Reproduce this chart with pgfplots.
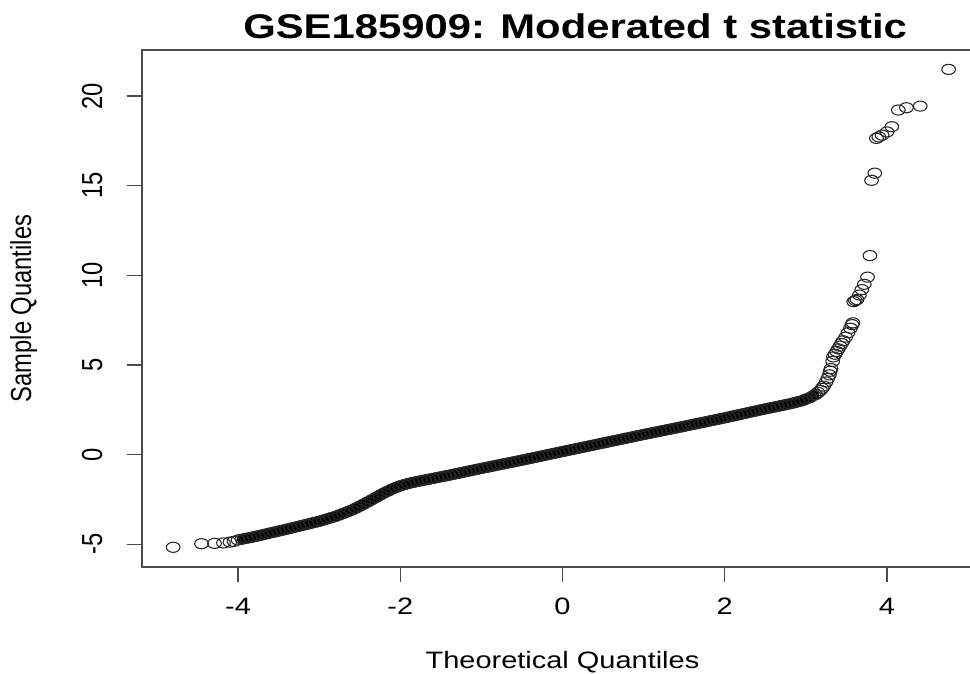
\documentclass[border=0pt]{standalone}
\usepackage{pgfplots}
\pgfplotsset{compat=1.18}
\usepackage{pgfplotstable}
\usepackage{graphicx}
\usepackage{fontspec}
\setmainfont{Liberation Sans}

\pgfplotstableread{
x y
-4.80 -5.17
-4.45 -4.97
-4.29 -4.95
-4.18 -4.93
-4.10 -4.88
-4.05 -4.84
}\lefttail

\pgfplotstableread{
x y
-4.00 -4.762
-3.95 -4.717
-3.90 -4.671
-3.85 -4.626
-3.80 -4.580
-3.75 -4.528
-3.70 -4.475
-3.65 -4.423
-3.60 -4.370
-3.55 -4.318
-3.50 -4.265
-3.45 -4.213
-3.40 -4.160
-3.35 -4.105
-3.30 -4.050
-3.25 -3.995
-3.20 -3.940
-3.15 -3.885
-3.10 -3.830
-3.05 -3.775
-3.00 -3.720
-2.95 -3.653
-2.90 -3.585
-2.85 -3.518
-2.80 -3.450
-2.75 -3.363
-2.70 -3.275
-2.65 -3.188
-2.60 -3.100
-2.55 -2.990
-2.50 -2.880
-2.45 -2.760
-2.40 -2.640
-2.35 -2.515
-2.30 -2.390
-2.25 -2.265
-2.20 -2.140
-2.15 -2.030
-2.10 -1.920
-2.05 -1.830
-2.00 -1.740
-1.95 -1.675
-1.90 -1.610
-1.85 -1.560
-1.80 -1.510
-1.75 -1.465
-1.70 -1.420
-1.65 -1.375
-1.60 -1.330
-1.55 -1.285
-1.50 -1.240
-1.45 -1.195
-1.40 -1.150
-1.35 -1.103
-1.30 -1.055
-1.25 -1.008
-1.20 -0.960
-1.15 -0.913
-1.10 -0.865
-1.05 -0.818
-1.00 -0.770
-0.95 -0.724
-0.90 -0.678
-0.85 -0.632
-0.80 -0.586
-0.75 -0.540
-0.70 -0.494
-0.65 -0.448
-0.60 -0.402
-0.55 -0.356
-0.50 -0.310
-0.45 -0.262
-0.40 -0.214
-0.35 -0.166
-0.30 -0.118
-0.25 -0.070
-0.20 -0.022
-0.15 0.026
-0.10 0.074
-0.05 0.122
0.00 0.170
0.05 0.218
0.10 0.265
0.15 0.313
0.20 0.360
0.25 0.408
0.30 0.455
0.35 0.503
0.40 0.550
0.45 0.598
0.50 0.645
0.55 0.693
0.60 0.740
0.65 0.788
0.70 0.835
0.75 0.883
0.80 0.930
0.85 0.978
0.90 1.025
0.95 1.073
1.00 1.120
1.05 1.166
1.10 1.212
1.15 1.258
1.20 1.304
1.25 1.350
1.30 1.396
1.35 1.442
1.40 1.488
1.45 1.534
1.50 1.580
1.55 1.627
1.60 1.674
1.65 1.721
1.70 1.768
1.75 1.815
1.80 1.862
1.85 1.909
1.90 1.956
1.95 2.003
2.00 2.050
2.05 2.100
2.10 2.150
2.15 2.200
2.20 2.250
2.25 2.300
2.30 2.350
2.35 2.400
2.40 2.450
2.45 2.500
2.50 2.550
2.55 2.597
2.60 2.643
2.65 2.690
2.70 2.737
2.75 2.783
2.80 2.830
2.85 2.887
2.90 2.943
2.95 3.000
3.00 3.090
3.05 3.180
3.10 3.310
3.12 3.360
3.15 3.470
3.18 3.580
3.20 3.700
3.22 3.820
}\band

\pgfplotstableread{
x y
3.25 4.05
3.27 4.25
3.29 4.45
3.30 4.65
3.31 4.80
3.33 5.20
3.34 5.45
3.36 5.60
3.38 5.75
3.40 5.90
3.42 6.05
3.44 6.20
3.46 6.35
3.49 6.55
3.52 6.80
3.55 7.05
3.57 7.25
3.58 7.35
3.59 8.53
3.61 8.60
3.63 8.65
3.66 8.90
3.69 9.20
3.72 9.50
3.76 9.90
3.79 11.10
3.81 15.30
3.85 15.70
3.87 17.64
3.90 17.72
3.94 17.82
4.00 18.00
4.06 18.29
4.14 19.22
4.24 19.35
4.41 19.44
4.76 21.49
}\righttail

\begin{document}
\begin{tikzpicture}
\begin{axis}[
  name=ax,
  scale only axis,
  width=630.75pt, height=387.75pt,
  xmin=-5.184, xmax=5.184,
  ymin=-6.27, ymax=22.57,
  axis line style={black!70, line width=0.9pt},
  tick style={black!70, line width=0.9pt},
  tick align=outside,
  major tick length=11.5pt,
  xtick pos=left, ytick pos=left,
  xtick={-4,-2,0,2,4},
  ytick={-5,0,5,10,15,20},
  minor tick num=0,
  xticklabel={\scalebox{1.22}[1]{\pgfmathprintnumber[assume math mode=true]{\tick}}},
  yticklabel={\scalebox{1}[1.22]{\pgfmathprintnumber[assume math mode=true]{\tick}}},
  xticklabel style={font=\fontsize{17.8}{20}\selectfont, anchor=north, inner sep=0pt, yshift=-11.5pt},
  yticklabel style={font=\fontsize{17.8}{20}\selectfont, rotate=90, anchor=south, inner sep=0pt, yshift=18pt},
  xlabel={\scalebox{1.22}[1]{Theoretical Quantiles}},
  ylabel={\scalebox{1}[1.22]{Sample Quantiles}},
  xlabel style={font=\fontsize{17.8}{20}\selectfont, at={(axis description cs:0.5,0)}, anchor=north, inner sep=0pt, yshift=-63pt},
  ylabel style={font=\fontsize{17.8}{20}\selectfont, at={(axis description cs:0,0.5)}, anchor=south, inner sep=0pt, yshift=78.5pt},
  title={\scalebox{1.22}[1]{\bfseries GSE185909: Moderated t statistic}},
  title style={font=\fontsize{25.7}{28}\selectfont, at={(axis description cs:0.515,1)}, anchor=base, inner sep=0pt, yshift=2.25pt},
  clip=false,
]
\addplot[black, line width=8pt, line cap=round, line join=round, no markers, restrict x to domain=-3.95:3.1, forget plot] table {\band};
\addplot[only marks, mark=o, mark size=3.8pt, mark options={black!85, line width=0.8pt, xscale=1.35}] table {\lefttail};
\addplot[only marks, mark=o, mark size=3.8pt, mark options={black!85, line width=0.8pt, xscale=1.35}] table {\band};
\addplot[only marks, mark=o, mark size=3.8pt, mark options={black!85, line width=0.8pt, xscale=1.35}] table {\righttail};
\end{axis}
\pgfresetboundingbox
\path[use as bounding box] ([shift={(-106.5pt,-80.25pt)}]ax.south west) rectangle ([shift={(621pt,425.25pt)}]ax.south west);
\end{tikzpicture}
\end{document}
